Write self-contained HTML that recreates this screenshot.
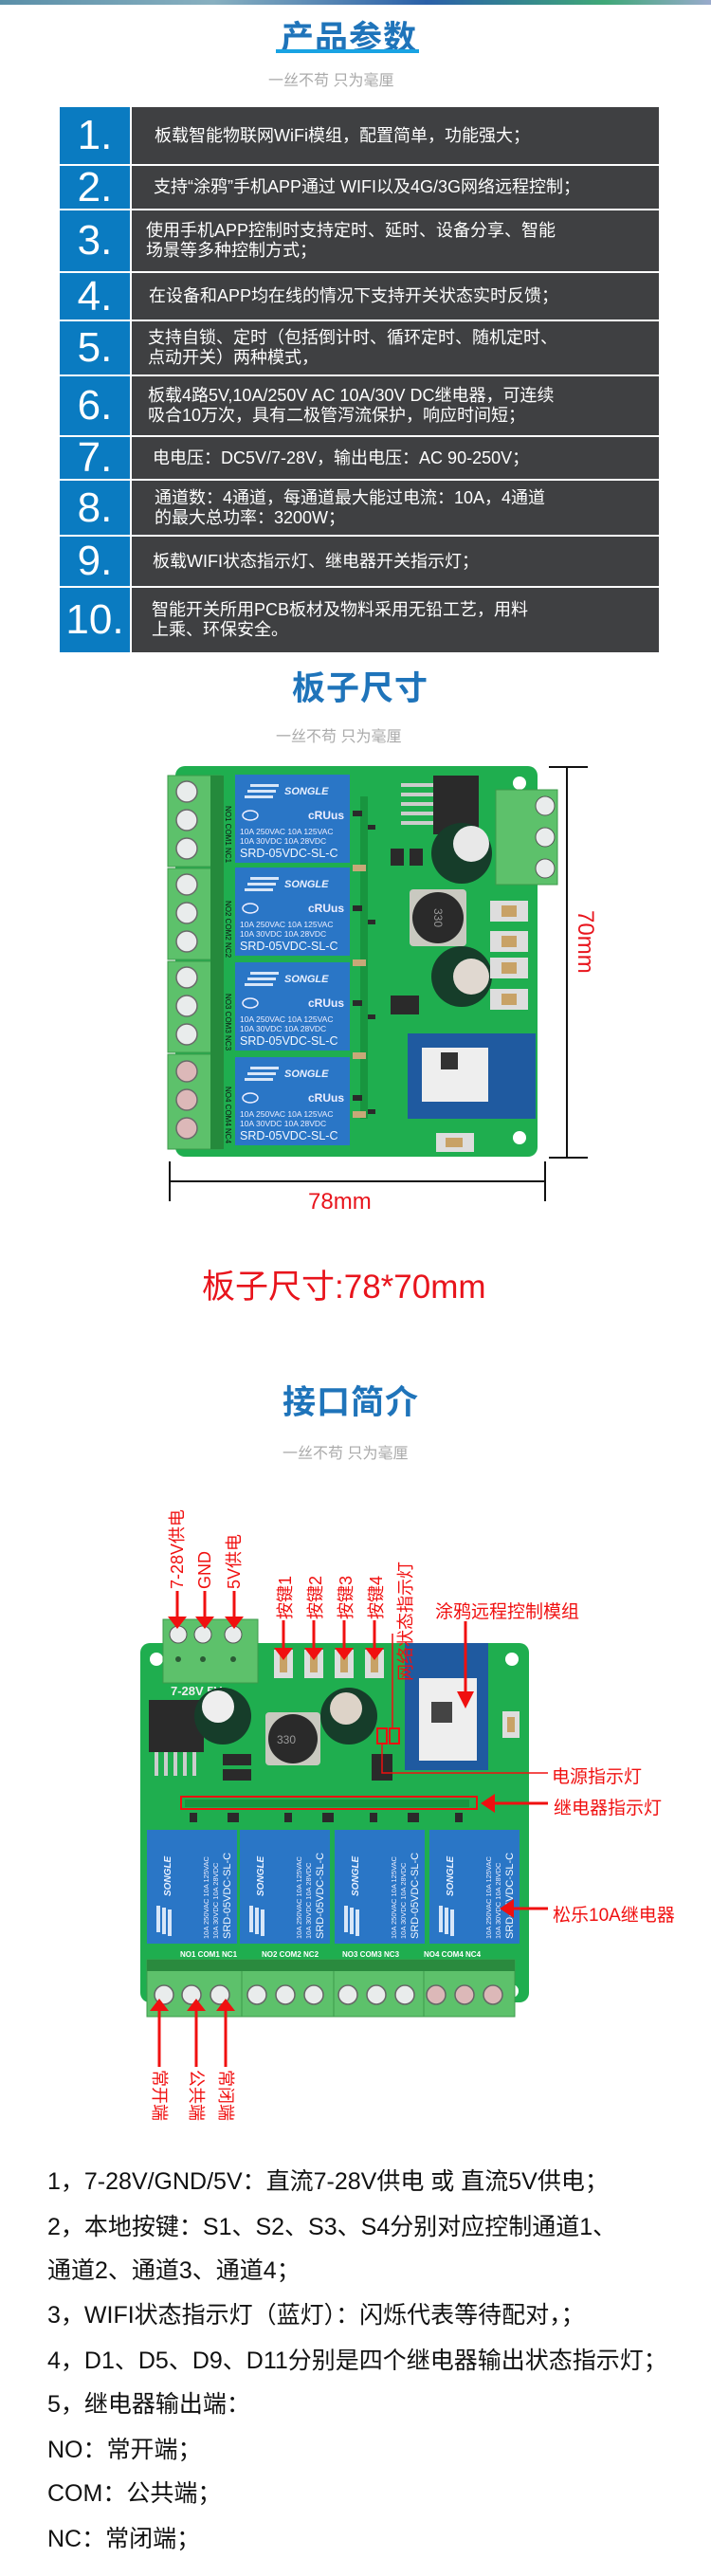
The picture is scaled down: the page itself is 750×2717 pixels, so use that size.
<!DOCTYPE html>
<html><head><meta charset="utf-8">
<style>
*{margin:0;padding:0;box-sizing:border-box}
body{width:750px;height:2717px;position:relative;background:#fff;overflow:hidden;font-family:"Liberation Sans","Noto Sans CJK SC",sans-serif}
.a{position:absolute;white-space:nowrap}
.title{font-size:35px;font-weight:bold;color:#1f74ba;letter-spacing:1px}
.sub{font-size:16px;color:#aaa}
.num{position:absolute;left:63px;width:74px;background:#0a7bc1;color:#fff;font-size:44px;display:flex;align-items:center;justify-content:center;font-family:"Liberation Sans",sans-serif}
.row{position:absolute;left:139px;width:556px;background:#3f4042;color:#fff;font-size:18px;line-height:21px;display:flex;align-items:center;font-family:"Liberation Sans","Noto Sans CJK SC",sans-serif}
.bt{position:absolute;left:50px;font-size:25px;color:#111;font-family:"Liberation Sans","Noto Sans CJK SC",sans-serif;white-space:nowrap;line-height:34px}
</style></head><body>
<div class="a" style="left:0;top:0;width:750px;height:5px;background:linear-gradient(90deg,#5a8fa8,#88b0c0 30%,#2a60a8 60%,#3fa878 85%,#9ac)"></div>

<div class="a title" style="left:296px;top:12px">产品参数</div>
<div class="a" style="left:291px;top:52px;width:151px;height:4px;background:#19a3e3"></div>
<div class="a sub" style="left:283px;top:71px">一丝不苟 只为毫厘</div>

<div class="num" style="top:113px;height:60px">1.</div><div class="row" style="top:113px;height:60px;padding-left:24px">板载智能物联网WiFi模组，配置简单，功能强大；</div>
<div class="num" style="top:175px;height:45px">2.</div><div class="row" style="top:175px;height:45px;padding-left:23px">支持“涂鸦”手机APP通过 WIFI以及4G/3G网络远程控制；</div>
<div class="num" style="top:222px;height:64px">3.</div><div class="row" style="top:222px;height:64px;padding-left:15px">使用手机APP控制时支持定时、延时、设备分享、智能<br>场景等多种控制方式；</div>
<div class="num" style="top:288px;height:49px">4.</div><div class="row" style="top:288px;height:49px;padding-left:18px">在设备和APP均在线的情况下支持开关状态实时反馈；</div>
<div class="num" style="top:339px;height:56px">5.</div><div class="row" style="top:339px;height:56px;padding-left:17px">支持自锁、定时（包括倒计时、循环定时、随机定时、<br>点动开关）两种模式，</div>
<div class="num" style="top:397px;height:62px">6.</div><div class="row" style="top:397px;height:62px;padding-left:17px">板载4路5V,10A/250V AC 10A/30V DC继电器，可连续<br>吸合10万次，具有二极管泻流保护，响应时间短；</div>
<div class="num" style="top:461px;height:44px">7.</div><div class="row" style="top:461px;height:44px;padding-left:22px">电电压：DC5V/7-28V，输出电压：AC 90-250V；</div>
<div class="num" style="top:507px;height:57px">8.</div><div class="row" style="top:507px;height:57px;padding-left:24px">通道数：4通道，每通道最大能过电流：10A，4通道<br>的最大总功率：3200W；</div>
<div class="num" style="top:566px;height:52px">9.</div><div class="row" style="top:566px;height:52px;padding-left:22px">板载WIFI状态指示灯、继电器开关指示灯；</div>
<div class="num" style="top:620px;height:68px">10.</div><div class="row" style="top:620px;height:68px;padding-left:21px">智能开关所用PCB板材及物料采用无铅工艺，用料<br>上乘、环保安全。</div>

<div class="a title" style="left:308px;top:698px">板子尺寸</div>
<div class="a sub" style="left:291px;top:763px">一丝不苟 只为毫厘</div>

<div class="a title" style="left:298px;top:1451px">接口简介</div>
<div class="a sub" style="left:298px;top:1519px">一丝不苟 只为毫厘</div>

<svg class="a" style="left:0;top:0" width="750" height="2717" xmlns="http://www.w3.org/2000/svg" font-family="Liberation Sans, Noto Sans CJK SC, sans-serif">
<!-- ============ BOARD 1 ============ -->
<rect x="185" y="808" width="382" height="412" rx="10" fill="#1fae4f"/>
<circle cx="548" cy="826" r="7" fill="#fff"/><circle cx="548" cy="1200" r="7" fill="#fff"/><circle cx="205" cy="1200" r="7" fill="#fff"/>
<g>
<rect x="177" y="818" width="56" height="96" fill="#5dc16b" stroke="#3d9a4b"/>
<rect x="177" y="916" width="56" height="96" fill="#5dc16b" stroke="#3d9a4b"/>
<rect x="177" y="1014" width="56" height="96" fill="#5dc16b" stroke="#3d9a4b"/>
<rect x="177" y="1112" width="56" height="100" fill="#5dc16b" stroke="#3d9a4b"/>
<rect x="222" y="818" width="14" height="394" fill="#258a3c"/>
<g fill="#e9ecec" stroke="#6a6a6a" stroke-width="1.5">
<circle cx="197" cy="835" r="11"/><circle cx="197" cy="865" r="11"/><circle cx="197" cy="895" r="11"/>
<circle cx="197" cy="933" r="11"/><circle cx="197" cy="963" r="11"/><circle cx="197" cy="993" r="11"/>
<circle cx="197" cy="1031" r="11"/><circle cx="197" cy="1061" r="11"/><circle cx="197" cy="1091" r="11"/>
<circle cx="197" cy="1130" r="11" fill="#dcb8b8"/><circle cx="197" cy="1160" r="11" fill="#dcb8b8"/><circle cx="197" cy="1190" r="11" fill="#dcb8b8"/>
</g>
</g>
<g font-size="8" fill="#111">
<text transform="rotate(90 238 850)" x="238" y="850">NO1 COM1 NC1</text>
<text transform="rotate(90 238 950)" x="238" y="950">NO2 COM2 NC2</text>
<text transform="rotate(90 238 1048)" x="238" y="1048">NO3 COM3 NC3</text>
<text transform="rotate(90 238 1146)" x="238" y="1146">NO4 COM4 NC4</text>
</g>
<g id="r1">
<rect x="248" y="817" width="121" height="93" fill="#2a76c6"/>
<text x="300" y="838" font-size="11" font-weight="bold" font-style="italic" fill="#e8f0ff">SONGLE</text>
<rect x="264" y="827" width="30" height="3" fill="#d8e6f8"/><rect x="261" y="833" width="30" height="3" fill="#d8e6f8"/><rect x="258" y="839" width="30" height="3" fill="#d8e6f8"/>
<ellipse cx="264" cy="860" rx="8" ry="5" fill="none" stroke="#eef" stroke-width="1.5"/>
<text x="325" y="864" font-size="12" font-weight="bold" fill="#eef">cRUus</text>
<text x="253" y="880" font-size="8.5" fill="#eef">10A 250VAC 10A 125VAC</text>
<text x="253" y="890" font-size="8.5" fill="#eef">10A  30VDC 10A  28VDC</text>
<text x="253" y="904" font-size="12.5" fill="#f4f8ff">SRD-05VDC-SL-C</text>
</g>
<use href="#r1" y="98"/><use href="#r1" y="198"/><use href="#r1" y="298"/>
<rect x="380" y="840" width="8" height="340" fill="#18953f"/>
<g fill="#2a2a2a"><rect x="372" y="855" width="10" height="6"/><rect x="388" y="870" width="8" height="5"/><rect x="372" y="955" width="10" height="6"/><rect x="388" y="970" width="8" height="5"/><rect x="372" y="1055" width="10" height="6"/><rect x="388" y="1070" width="8" height="5"/><rect x="372" y="1155" width="10" height="6"/><rect x="388" y="1170" width="8" height="5"/><rect x="412" y="895" width="14" height="18"/><rect x="432" y="895" width="14" height="18"/><rect x="412" y="1050" width="30" height="20"/></g>
<g fill="#c8a878"><rect x="372" y="912" width="14" height="7"/><rect x="372" y="1012" width="14" height="7"/><rect x="372" y="1110" width="14" height="7"/><rect x="372" y="1172" width="14" height="7"/></g>
<rect x="457" y="818" width="48" height="62" fill="#2a2a2a"/>
<g fill="#ccc"><rect x="423" y="826" width="34" height="4"/><rect x="423" y="836" width="34" height="4"/><rect x="423" y="846" width="34" height="4"/><rect x="423" y="856" width="34" height="4"/><rect x="423" y="866" width="34" height="4"/></g>
<circle cx="487" cy="900" r="32" fill="#163d2a"/><circle cx="497" cy="890" r="19" fill="#e8e8e8"/>
<circle cx="487" cy="1030" r="32" fill="#163d2a"/><circle cx="497" cy="1030" r="19" fill="#e0d8d0"/>
<rect x="432" y="938" width="60" height="60" rx="4" fill="#c9c9c0"/><circle cx="462" cy="968" r="27" fill="#2a2a2a"/>
<text transform="rotate(90 458 958)" x="458" y="958" font-size="12" fill="#999">330</text>
<g><rect x="517" y="950" width="40" height="22" fill="#ddd"/><rect x="529" y="955" width="16" height="12" fill="#c8a266"/></g>
<g><rect x="517" y="982" width="40" height="22" fill="#ddd"/><rect x="529" y="987" width="16" height="12" fill="#c8a266"/></g>
<g><rect x="517" y="1010" width="40" height="22" fill="#ddd"/><rect x="529" y="1015" width="16" height="12" fill="#c8a266"/></g>
<g><rect x="517" y="1043" width="40" height="22" fill="#ddd"/><rect x="529" y="1048" width="16" height="12" fill="#c8a266"/></g>
<rect x="523" y="833" width="65" height="100" fill="#5dc16b" stroke="#3d9a4b"/>
<g fill="#e9ecec" stroke="#555"><circle cx="575" cy="850" r="10"/><circle cx="575" cy="883" r="10"/><circle cx="575" cy="916" r="10"/></g>
<rect x="430" y="1090" width="135" height="90" fill="#1f5aa0"/>
<rect x="445" y="1105" width="70" height="57" fill="#eeeeee"/>
<rect x="465" y="1110" width="18" height="18" fill="#333"/>
<rect x="460" y="1195" width="40" height="20" fill="#ddd"/><rect x="470" y="1200" width="18" height="10" fill="#c8a266"/>
<!-- dims -->
<g stroke="#111" stroke-width="2">
<line x1="579" y1="809" x2="620" y2="809"/><line x1="579" y1="1221" x2="620" y2="1221"/><line x1="598" y1="809" x2="598" y2="1221"/>
<line x1="179" y1="1225" x2="179" y2="1267"/><line x1="575" y1="1225" x2="575" y2="1267"/><line x1="179" y1="1246" x2="575" y2="1246"/>
</g>
<text transform="rotate(90 610 960)" x="610" y="960" font-size="24" fill="#e8141c">70mm</text>
<text x="325" y="1275" font-size="24" fill="#e8141c">78mm</text>
<text x="213" y="1369" font-size="35" fill="#e8141c">板子尺寸:78*70mm</text>

<!-- ============ BOARD 2 ============ -->
<rect x="148" y="1733" width="410" height="379" rx="10" fill="#1fae4f"/>
<circle cx="165" cy="1750" r="7" fill="#fff"/><circle cx="540" cy="1750" r="7" fill="#fff"/><circle cx="540" cy="2100" r="7" fill="#fff"/>
<rect x="172" y="1708" width="100" height="67" fill="#5dc16b" stroke="#3d9a4b"/>
<g fill="#e9ecec" stroke="#555"><circle cx="188" cy="1724" r="9"/><circle cx="214" cy="1724" r="9"/><circle cx="246" cy="1724" r="9"/></g>
<g fill="#2b5a35"><circle cx="188" cy="1750" r="3"/><circle cx="214" cy="1750" r="3"/><circle cx="246" cy="1750" r="3"/></g>
<text x="180" y="1788" font-size="13" font-weight="bold" fill="#eee">7-28V  5V</text>
<rect x="157" y="1793" width="58" height="55" fill="#2a2a2a"/>
<g fill="#ccc"><rect x="163" y="1848" width="4" height="25"/><rect x="173" y="1848" width="4" height="25"/><rect x="183" y="1848" width="4" height="25"/><rect x="193" y="1848" width="4" height="25"/><rect x="203" y="1848" width="4" height="25"/></g>
<circle cx="235" cy="1810" r="30" fill="#163d2a"/><circle cx="230" cy="1800" r="17" fill="#eee"/>
<circle cx="368" cy="1810" r="30" fill="#163d2a"/><circle cx="365" cy="1802" r="17" fill="#ddd3c8"/>
<rect x="280" y="1806" width="58" height="56" rx="4" fill="#c9c9c0"/><circle cx="309" cy="1834" r="26" fill="#2a2a2a"/>
<text x="292" y="1839" font-size="12" fill="#999">330</text>
<rect x="235" y="1850" width="30" height="12" fill="#2a2a2a"/><rect x="235" y="1866" width="30" height="12" fill="#2a2a2a"/>
<g fill="#ddd"><rect x="289" y="1740" width="20" height="30"/><rect x="321" y="1740" width="20" height="30"/><rect x="353" y="1740" width="20" height="30"/><rect x="385" y="1740" width="20" height="30"/><rect x="530" y="1805" width="18" height="28"/></g>
<g fill="#c8a266"><rect x="295" y="1746" width="8" height="18"/><rect x="327" y="1746" width="8" height="18"/><rect x="359" y="1746" width="8" height="18"/><rect x="391" y="1746" width="8" height="18"/><rect x="535" y="1811" width="8" height="16"/></g>
<rect x="427" y="1733" width="88" height="134" fill="#1f5aa0"/>
<rect x="442" y="1770" width="61" height="87" fill="#eee"/>
<rect x="455" y="1795" width="22" height="22" fill="#444"/>
<rect x="392" y="1850" width="22" height="28" fill="#2a2a2a"/>
<g fill="#2a2a2a"><rect x="195" y="1898" width="300" height="8" fill="#18953f"/><rect x="200" y="1912" width="8" height="10"/><rect x="240" y="1912" width="12" height="10"/><rect x="300" y="1912" width="8" height="10"/><rect x="340" y="1912" width="12" height="10"/><rect x="390" y="1912" width="8" height="10"/><rect x="430" y="1912" width="12" height="10"/><rect x="480" y="1912" width="8" height="10"/></g>
<g id="r2">
<rect x="155" y="1930" width="95" height="120" fill="#2a76c6"/>
<text transform="rotate(-90 243 2045)" x="243" y="2045" font-size="11" fill="#f4f8ff">SRD-05VDC-SL-C</text>
<text transform="rotate(-90 230 2045)" x="230" y="2045" font-size="7.5" fill="#eef">10A 30VDC 10A 28VDC</text>
<text transform="rotate(-90 220 2045)" x="220" y="2045" font-size="7.5" fill="#eef">10A 250VAC 10A 125VAC</text>
<text transform="rotate(-90 180 2000)" x="180" y="2000" font-size="10" font-weight="bold" font-style="italic" fill="#e8f0ff">SONGLE</text>
<rect x="165" y="2010" width="4" height="28" fill="#d8e6f8"/><rect x="171" y="2012" width="4" height="28" fill="#d8e6f8"/><rect x="177" y="2014" width="4" height="28" fill="#d8e6f8"/>
</g>
<use href="#r2" x="98"/><use href="#r2" x="198"/><use href="#r2" x="298"/>
<g font-size="8" fill="#fff" font-weight="bold"><text x="190" y="2064">NO1 COM1 NC1</text><text x="276" y="2064">NO2 COM2 NC2</text><text x="361" y="2064">NO3 COM3 NC3</text><text x="447" y="2064">NO4 COM4 NC4</text></g>
<g fill="#5dc16b" stroke="#3d9a4b"><rect x="155" y="2067" width="100" height="60"/><rect x="255" y="2067" width="97" height="60"/><rect x="352" y="2067" width="95" height="60"/><rect x="447" y="2067" width="96" height="60"/></g>
<rect x="155" y="2067" width="388" height="12" fill="#2a8a3e"/>
<g fill="#e9ecec" stroke="#666" stroke-width="1.5">
<circle cx="173" cy="2104" r="10"/><circle cx="202" cy="2104" r="10"/><circle cx="232" cy="2104" r="10"/>
<circle cx="271" cy="2104" r="10"/><circle cx="301" cy="2104" r="10"/><circle cx="331" cy="2104" r="10"/>
<circle cx="367" cy="2104" r="10"/><circle cx="397" cy="2104" r="10"/><circle cx="427" cy="2104" r="10"/>
<circle cx="460" cy="2104" r="10" fill="#dcb8b8"/><circle cx="490" cy="2104" r="10" fill="#dcb8b8"/><circle cx="520" cy="2104" r="10" fill="#dcb8b8"/>
</g>

<!-- red annotations -->
<g stroke="#f01010" stroke-width="3" fill="none">
<line x1="187" y1="1678" x2="187" y2="1705"/><line x1="216" y1="1678" x2="216" y2="1705"/><line x1="247" y1="1678" x2="247" y2="1705"/>
<line x1="299" y1="1709" x2="299" y2="1740"/><line x1="331" y1="1709" x2="331" y2="1740"/><line x1="363" y1="1709" x2="363" y2="1740"/><line x1="395" y1="1709" x2="395" y2="1740"/>
<line x1="491" y1="1710" x2="491" y2="1790"/>
<line x1="578" y1="1902" x2="520" y2="1902"/>
<line x1="578" y1="2013" x2="540" y2="2013"/>
<line x1="168" y1="2120" x2="168" y2="2180"/><line x1="207" y1="2120" x2="207" y2="2180"/><line x1="238" y1="2120" x2="238" y2="2180"/>
<rect x="191" y="1895" width="312" height="13" stroke-width="2"/>
<rect x="398" y="1823" width="10" height="16" stroke-width="2"/><rect x="411" y="1823" width="10" height="16" stroke-width="2"/>
<polyline points="414,1723 414,1823" stroke-width="1.5"/>
<polyline points="403,1839 403,1870 578,1870" stroke-width="1.5"/>
</g>
<g fill="#f01010">
<polygon points="177,1705 197,1705 187,1718"/><polygon points="206,1705 226,1705 216,1718"/><polygon points="237,1705 257,1705 247,1718"/>
<polygon points="289,1738 309,1738 299,1751"/><polygon points="321,1738 341,1738 331,1751"/><polygon points="353,1738 373,1738 363,1751"/><polygon points="385,1738 405,1738 395,1751"/>
<polygon points="482,1784 500,1784 491,1802"/>
<polygon points="522,1892 522,1912 507,1902"/>
<polygon points="542,2003 542,2023 527,2013"/>
<polygon points="158,2121 178,2121 168,2108"/><polygon points="197,2121 217,2121 207,2108"/><polygon points="228,2121 248,2121 238,2108"/>
</g>
<g font-size="18" fill="#f01010">
<text transform="rotate(-90 193 1676)" x="193" y="1676">7-28V供电</text>
<text transform="rotate(-90 222 1676)" x="222" y="1676">GND</text>
<text transform="rotate(-90 253 1676)" x="253" y="1676">5V供电</text>
<text transform="rotate(-90 307 1708)" x="307" y="1708">按键1</text>
<text transform="rotate(-90 339 1708)" x="339" y="1708">按键2</text>
<text transform="rotate(-90 371 1708)" x="371" y="1708">按键3</text>
<text transform="rotate(-90 403 1708)" x="403" y="1708">按键4</text>
<text transform="rotate(-90 434 1773)" x="434" y="1773">网络状态指示灯</text>
<text transform="rotate(90 162 2183)" x="162" y="2183">常开端</text>
<text transform="rotate(90 201 2183)" x="201" y="2183">公共端</text>
<text transform="rotate(90 232 2183)" x="232" y="2183">常闭端</text>
</g>
<g font-size="19" fill="#f01010">
<text x="459" y="1706">涂鸦远程控制模组</text>
<text x="582" y="1880">电源指示灯</text>
<text x="584" y="1913">继电器指示灯</text>
<text x="583" y="2026">松乐10A继电器</text>
</g>
</svg>

<div class="bt" style="top:2284px">1，7-28V/GND/5V：直流7-28V供电 或 直流5V供电；</div>
<div class="bt" style="top:2332px">2，本地按键：S1、S2、S3、S4分别对应控制通道1、</div>
<div class="bt" style="top:2378px">通道2、通道3、通道4；</div>
<div class="bt" style="top:2425px">3，WIFI状态指示灯（蓝灯）：闪烁代表等待配对，；</div>
<div class="bt" style="top:2473px">4，D1、D5、D9、D11分别是四个继电器输出状态指示灯；</div>
<div class="bt" style="top:2519px">5，继电器输出端：</div>
<div class="bt" style="top:2567px">NO：常开端；</div>
<div class="bt" style="top:2613px">COM：公共端；</div>
<div class="bt" style="top:2661px">NC：常闭端；</div>
</body></html>
